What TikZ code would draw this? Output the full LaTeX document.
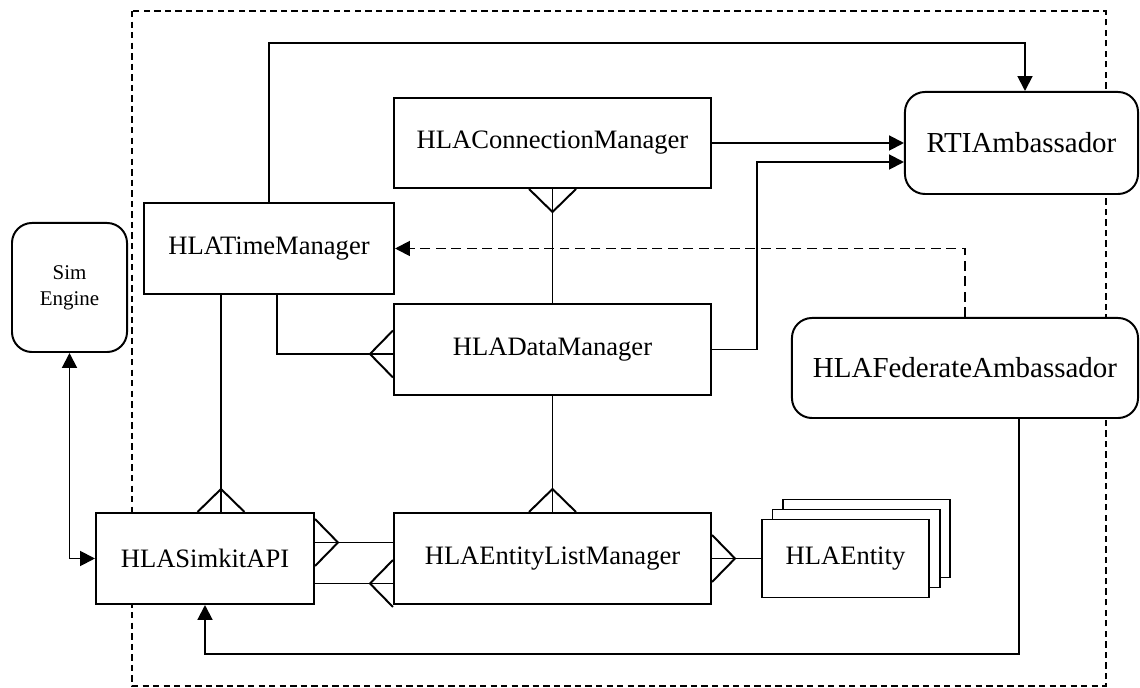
\documentclass[tikz,border=0pt]{standalone}
\usepackage{fontspec}
\setmainfont{Liberation Serif}
\usetikzlibrary{arrows.meta,calc}

\tikzset{
  cls/.style={draw, fill=white, inner sep=0pt, font=\fontsize{18.9}{22}\selectfont},
  amb/.style={cls, rounded corners=0.5cm, font=\fontsize{20.6}{24}\selectfont},
  eng/.style={cls, rounded corners=0.5cm, align=center, font=\fontsize{14.9}{18.4}\selectfont},
  arr/.style={-{Triangle[length=10.5pt,width=10.5pt]}},
  crow/.pic={\draw (0,-23.5) -- (23,0) -- (0,23.5);}
}

\begin{document}
\begin{tikzpicture}[x=0.025cm, y=-0.025cm, line width=1.4pt]
\useasboundingbox (0,0) rectangle (1140,688);

% Federate boundary
\draw[dash pattern=on 4.5pt off 3pt] (132,11) rectangle (1106,686);

% Classes
\node[cls, minimum width=7.925cm, minimum height=2.25cm] (conn) at (552.5,143) {HLAConnectionManager};
\node[amb, minimum width=5.825cm, minimum height=2.55cm] (rti) at (1021.5,143) {RTIAmbassador};
\node[cls, minimum width=6.25cm, minimum height=2.275cm] (time) at (269,248.5) {HLATimeManager};
\node[eng, minimum width=2.875cm, minimum height=3.225cm] (sim) at (69.5,287.5) {Sim\\Engine};
\node[cls, minimum width=7.925cm, minimum height=2.275cm] (data) at (552.5,349.5) {HLADataManager};
\node[amb, minimum width=8.65cm, minimum height=2.5cm] (fed) at (965,368) {HLAFederateAmbassador};
\node[cls, minimum width=5.45cm, minimum height=2.275cm] (api) at (205,558.5) {HLASimkitAPI};
\node[cls, minimum width=7.925cm, minimum height=2.275cm] (elm) at (552.5,558.5) {HLAEntityListManager};

% Entity stack
\node[cls, minimum width=4.175cm, minimum height=1.95cm] (ent3) at (866.5,538.5) {};
\node[cls, minimum width=4.175cm, minimum height=1.95cm] (ent2) at (856,548.5) {};
\node[cls, minimum width=4.175cm, minimum height=1.95cm] (ent) at (845.5,558.5) {HLAEntity};

% Calls
\draw[arr] (time.north) |- ($(rti.north)+(3.5,-48)$) -- ($(rti.north)+(3.5,0)$);
\draw[arr] (conn.east) -- (rti.west);
\draw[arr] (data.east) -- ++(45,0) |- ($(rti.west)+(0,19)$);
\draw[arr, dash pattern=on 7pt off 4pt] (fed.north) |- (time.east);
\draw[arr] ($(fed.south)+(54,0)$) -- ++(0,235) -| (api.south);
\draw[{Triangle[length=10.5pt,width=10.5pt]}-{Triangle[length=10.5pt,width=10.5pt]}] (sim.south) |- (api.west);

% Associations
\draw (conn.south) coordinate (c1) -- (data.north);
\draw ($(time.south)+(8,0)$) |- ($(data.west)+(0,4.5)$) coordinate (c2);
\draw ($(time.south)+(-48,0)$) -- ($(api.north)+(16,0)$) coordinate (c3);
\draw (data.south) -- (elm.north) coordinate (c4);
\draw ($(api.east)+(0,-16)$) coordinate (c5) -- ($(elm.west)+(0,-16)$);
\draw ($(api.east)+(0,25)$) -- ($(elm.west)+(0,25)$) coordinate (c6);
\draw (elm.east) coordinate (c7) -- (ent.west);

% Crow's feet
\foreach \c/\r in {c1/-90, c2/180, c3/90, c4/90, c5/0, c6/180, c7/0}
  \pic[rotate=\r] at (\c) {crow};
\end{tikzpicture}
\end{document}
